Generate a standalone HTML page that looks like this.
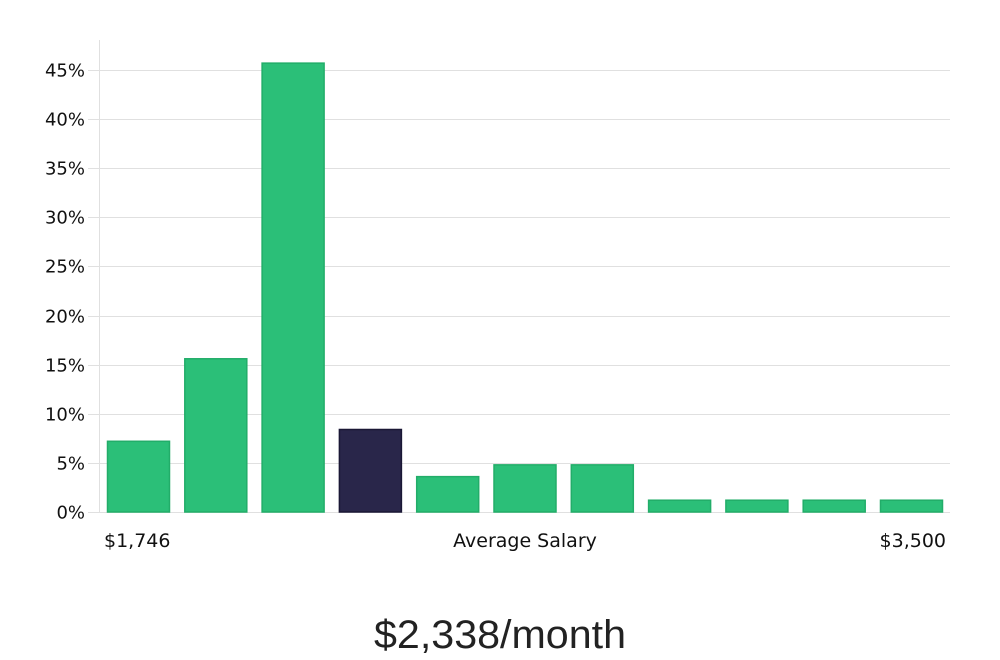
<!DOCTYPE html>
<html><head><meta charset="utf-8"><style>
html,body{margin:0;padding:0;background:#fff;width:1000px;height:660px;overflow:hidden;font-family:"DejaVu Sans","Liberation Sans",sans-serif;}
</style></head><body>
<svg id="chart" width="1000" height="660" xmlns="http://www.w3.org/2000/svg">
<g id="grid"></g>
<line x1="99.5" y1="40" x2="99.5" y2="512" stroke="#e0e0e0" stroke-width="1"/>
<g id="yticks"></g>
<g id="bars"></g>
<text x="104" y="547" font-size="19" fill="#111">$1,746</text>
<text x="525" y="547" font-size="19" fill="#111" text-anchor="middle">Average Salary</text>
<text x="946" y="547" font-size="19" fill="#111" text-anchor="end">$3,500</text>
<text x="500" y="648" font-size="40" fill="#222" text-anchor="middle" font-family="Liberation Sans, sans-serif" textLength="252" lengthAdjust="spacingAndGlyphs">$2,338/month</text>
</svg>
<script>
const categories = ["b1","b2","b3","b4","b5","b6","b7","b8","b9","b10","b11"];
const values = [7.2, 15.6, 45.7, 8.4, 3.6, 4.8, 4.8, 1.2, 1.2, 1.2, 1.2];
const highlightIndex = 3;
const yTicks = [0,5,10,15,20,25,30,35,40,45];
const yTickLabels = ["0%","5%","10%","15%","20%","25%","30%","35%","40%","45%"];

const NS="http://www.w3.org/2000/svg";
const y0=512, pxPerPct=(512-70)/45;
function yScale(v){return y0 - v*pxPerPct;}
const x0=107, pitch=77.3, bw=63;
function xScale(i){return x0 + i*pitch;}

const grid=document.getElementById('grid'), yt=document.getElementById('yticks'), bars=document.getElementById('bars');
yTicks.forEach((t,i)=>{
  const y=Math.round(yScale(t))+0.5;
  const l=document.createElementNS(NS,'line');
  
  
  l.setAttribute('x1',88);l.setAttribute('x2',950);l.setAttribute('y1',y);l.setAttribute('y2',y);
  l.setAttribute('stroke','#e0e0e0');
  grid.appendChild(l);
  const tx=document.createElementNS(NS,'text');
  
  
  tx.setAttribute('x',85);tx.setAttribute('y',y+6);tx.setAttribute('text-anchor','end');
  tx.setAttribute('font-size','18');tx.setAttribute('fill','#111');
  tx.textContent=yTickLabels[i];
  yt.appendChild(tx);
});
categories.forEach((c,i)=>{
  const r=document.createElementNS(NS,'rect');
  
  
  const top=yScale(values[i]);
  r.setAttribute('x',xScale(i)+0.5);r.setAttribute('y',top);
  r.setAttribute('width',bw-1);r.setAttribute('height',y0-top);
  const hi=i===highlightIndex;
  r.setAttribute('fill',hi?'#29264a':'#2bbf78');
  r.setAttribute('stroke',hi?'#1a1735':'#22ad69');
  r.setAttribute('stroke-width','1.5');
  bars.appendChild(r);
});
</script>
</body></html>
